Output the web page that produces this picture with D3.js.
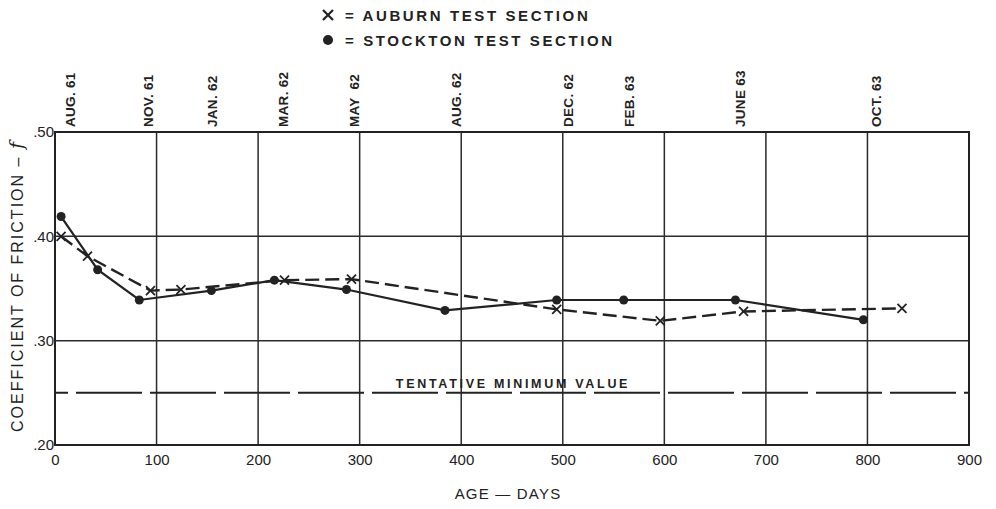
<!DOCTYPE html>
<html><head><meta charset="utf-8">
<script src="https://cdn.jsdelivr.net/npm/d3@7"></script>
<style>
body{margin:0;background:#fff;}
svg{display:block;font-family:"Liberation Sans",Arial,sans-serif;}
</style></head>
<body>
<svg id="c" width="996" height="509"></svg>
<script>
// ---- data ----
const auburnDays   = [6, 32, 94, 124, 226, 292, 494, 596, 678, 834];
const auburnValues = [0.400, 0.381, 0.348, 0.349, 0.358, 0.359, 0.330, 0.319, 0.328, 0.331];
const stocktonDays   = [6, 42, 83, 154, 216, 287, 384, 494, 560, 670, 796];
const stocktonValues = [0.419, 0.368, 0.339, 0.348, 0.358, 0.349, 0.329, 0.339, 0.339, 0.339, 0.320];
const monthLabels = ["AUG. 61","NOV. 61","JAN. 62","MAR. 62","MAY  62","AUG. 62","DEC. 62","FEB. 63","JUNE 63","OCT. 63"];
const monthDays   = [14, 91, 154, 224, 293, 394, 504, 564, 674, 807];
const xTicks = [0,100,200,300,400,500,600,700,800,900];
const yTicks = [0.20,0.30,0.40,0.50];
const minimumValue = 0.25;
const minimumLabel = "TENTATIVE MINIMUM VALUE";

// ---- chart ----
const svg = d3.select("#c");
const ink = "#222";
const x = d3.scaleLinear().domain([0,900]).range([55,969]);
const y = d3.scaleLinear().domain([0.20,0.50]).range([445,132]);

// grid
svg.append("g").selectAll("line").data(xTicks.slice(1,-1)).join("line")
  .attr("x1",d=>x(d)).attr("x2",d=>x(d)).attr("y1",y(0.5)).attr("y2",y(0.2))
  .attr("stroke","#2a2a2a").attr("stroke-width",1.5);
svg.append("g").selectAll("line").data([0.30,0.40]).join("line")
  .attr("x1",x(0)).attr("x2",x(900)).attr("y1",d=>y(d)).attr("y2",d=>y(d))
  .attr("stroke","#2a2a2a").attr("stroke-width",1.5);

// frame
svg.append("rect").attr("x",x(0)).attr("y",y(0.5)).attr("width",x(900)-x(0)).attr("height",y(0.2)-y(0.5))
  .attr("fill","none").attr("stroke",ink).attr("stroke-width",2);

// minimum line
svg.append("line").attr("x1",x(0)).attr("x2",x(900)).attr("y1",y(minimumValue)).attr("y2",y(minimumValue))
  .attr("stroke",ink).attr("stroke-width",2).attr("stroke-dasharray","66,8").attr("stroke-dashoffset",53);
svg.append("text").attr("x",x(451)).attr("y",y(minimumValue)-5).attr("text-anchor","middle")
  .attr("font-size",12.5).attr("font-weight","bold").attr("letter-spacing",2.7).attr("fill",ink)
  .text(minimumLabel);

// x axis
const xAxis = svg.append("g").attr("transform",`translate(0,${y(0.2)})`)
  .call(d3.axisBottom(x).tickValues(xTicks).tickSize(0).tickPadding(9).tickFormat(d3.format("d")));
xAxis.select(".domain").remove();
xAxis.selectAll("text").attr("font-size",15).attr("fill",ink).attr("font-family","Liberation Sans");
svg.append("text").attr("x",508).attr("y",499).attr("text-anchor","middle").attr("font-size",15)
  .attr("letter-spacing",1.2).attr("fill",ink).text("AGE — DAYS");

// y axis
const yAxis = svg.append("g").attr("transform",`translate(${x(0)},0)`)
  .call(d3.axisLeft(y).tickValues(yTicks).tickSize(0).tickPadding(1)
    .tickFormat(d=>d3.format(".2f")(d).replace(/^0/,"")));
yAxis.select(".domain").remove();
yAxis.selectAll("text").attr("font-size",15).attr("fill",ink).attr("font-family","Liberation Sans");
const yl = svg.append("text").attr("transform","translate(23,286) rotate(-90)").attr("text-anchor","middle")
  .attr("font-size",16).attr("letter-spacing",2).attr("fill",ink);
yl.append("tspan").text("COEFFICIENT OF FRICTION – ");
yl.append("tspan").attr("font-style","italic").attr("font-family","DejaVu Serif").attr("font-size",19).text("f");

// top month labels
svg.append("g").selectAll("text").data(monthLabels).join("text")
  .attr("transform",(d,i)=>`translate(${x(monthDays[i])+6},127) rotate(-90)`)
  .attr("font-size",13.5).attr("font-weight","bold").attr("letter-spacing",0.3).attr("fill",ink)
  .attr("xml:space","preserve").style("white-space","pre")
  .text(d=>d);

// series
const aub = auburnDays.map((d,i)=>[d,auburnValues[i]]);
const sto = stocktonDays.map((d,i)=>[d,stocktonValues[i]]);
const line = d3.line().x(d=>x(d[0])).y(d=>y(d[1]));
svg.append("path").attr("d",line(sto)).attr("fill","none").attr("stroke",ink).attr("stroke-width",2.2);
svg.append("path").attr("d",line(aub)).attr("fill","none").attr("stroke",ink).attr("stroke-width",2.4)
  .attr("stroke-dasharray","14,6");
svg.append("g").selectAll("circle").data(sto).join("circle")
  .attr("cx",d=>x(d[0])).attr("cy",d=>y(d[1])).attr("r",4.5).attr("fill",ink);
const xs = 4.5;
svg.append("g").selectAll("path").data(aub).join("path")
  .attr("d",d=>{const cx=x(d[0]),cy=y(d[1]);return `M${cx-xs},${cy-xs}L${cx+xs},${cy+xs}M${cx-xs},${cy+xs}L${cx+xs},${cy-xs}`;})
  .attr("stroke",ink).attr("stroke-width",1.8).attr("fill","none");

// legend
const lg = svg.append("g");
lg.append("path").attr("d","M323,10L333,20M323,20L333,10").attr("stroke",ink).attr("stroke-width",2.2);
lg.append("circle").attr("cx",328).attr("cy",40).attr("r",5).attr("fill",ink);
lg.append("text").attr("x",345).attr("y",21).attr("font-size",15).attr("letter-spacing",2.6).attr("fill",ink)
  .attr("font-weight","bold").text("= AUBURN TEST SECTION");
lg.append("text").attr("x",345).attr("y",46).attr("font-size",15).attr("letter-spacing",2.6).attr("fill",ink)
  .attr("font-weight","bold").text("= STOCKTON TEST SECTION");
</script>
</body></html>
